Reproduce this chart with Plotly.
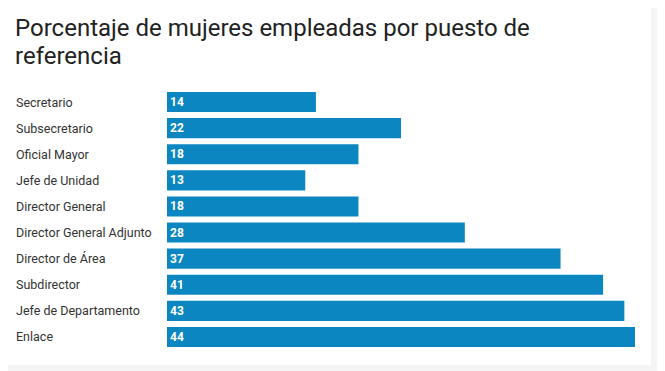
import plotly.graph_objects as go

categories = ["Secretario", "Subsecretario", "Oficial Mayor", "Jefe de Unidad",
              "Director General", "Director General Adjunto", "Director de Área",
              "Subdirector", "Jefe de Departamento", "Enlace"]
values = [14, 22, 18, 13, 18, 28, 37, 41, 43, 44]
title_lines = ["Porcentaje de mujeres empleadas por puesto de", "referencia"]

# page has an 8px body margin; figure is sized to fit inside the window
OFF = 8
W, H = 665 - OFF, 371 - OFF
L, T = 167 - OFF, 89 - OFF
pw, ph = 468, 261
R = W - L - pw
B = H - T - ph


def px_x(xf):
    return (xf - L) / pw


def px_y(yf):
    return 1 - (yf - T) / ph


fig = go.Figure(go.Bar(
    x=values, y=categories, orientation="h",
    marker=dict(color="#0b86c1", line=dict(width=0)),
    text=[str(v) for v in values], textposition="inside",
    insidetextanchor="start",
    textfont=dict(family="Roboto", size=12, color="white", weight="bold"),
    width=0.77, hoverinfo="skip",
))

for c in categories:
    fig.add_annotation(x=px_x(16 - OFF - 2), xref="paper", y=c, yref="y",
                       text=c, showarrow=False, xanchor="left",
                       font=dict(family="Roboto", size=12.5, color="#333333"))

for i, line in enumerate(title_lines):
    fig.add_annotation(x=px_x(16 - OFF - 3), xref="paper",
                       y=px_y(20 + 28 * i), yref="paper",
                       text=line, showarrow=False, xanchor="left", yanchor="middle",
                       font=dict(family="Roboto", size=24, color="#222222"))

gray = "#f5f5f5"
fig.add_shape(type="rect", xref="paper", yref="paper",
              x0=px_x(651 - OFF), x1=px_x(W + 20),
              y0=px_y(H + 20), y1=px_y(-20),
              fillcolor=gray, line=dict(width=0), layer="below")
fig.add_shape(type="rect", xref="paper", yref="paper",
              x0=px_x(-20), x1=px_x(W + 20),
              y0=px_y(H + 20), y1=px_y(365 - OFF),
              fillcolor=gray, line=dict(width=0), layer="below")

fig.update_layout(
    width=W, height=H,
    margin=dict(l=L, r=R, t=T, b=B, pad=0),
    paper_bgcolor="white", plot_bgcolor="white",
    xaxis=dict(range=[0, 44], visible=False, fixedrange=True),
    yaxis=dict(autorange="reversed", showticklabels=False, showgrid=False,
               zeroline=False, fixedrange=True),
    showlegend=False,
    bargap=0.23,
)

fig.write_html("out.html")
